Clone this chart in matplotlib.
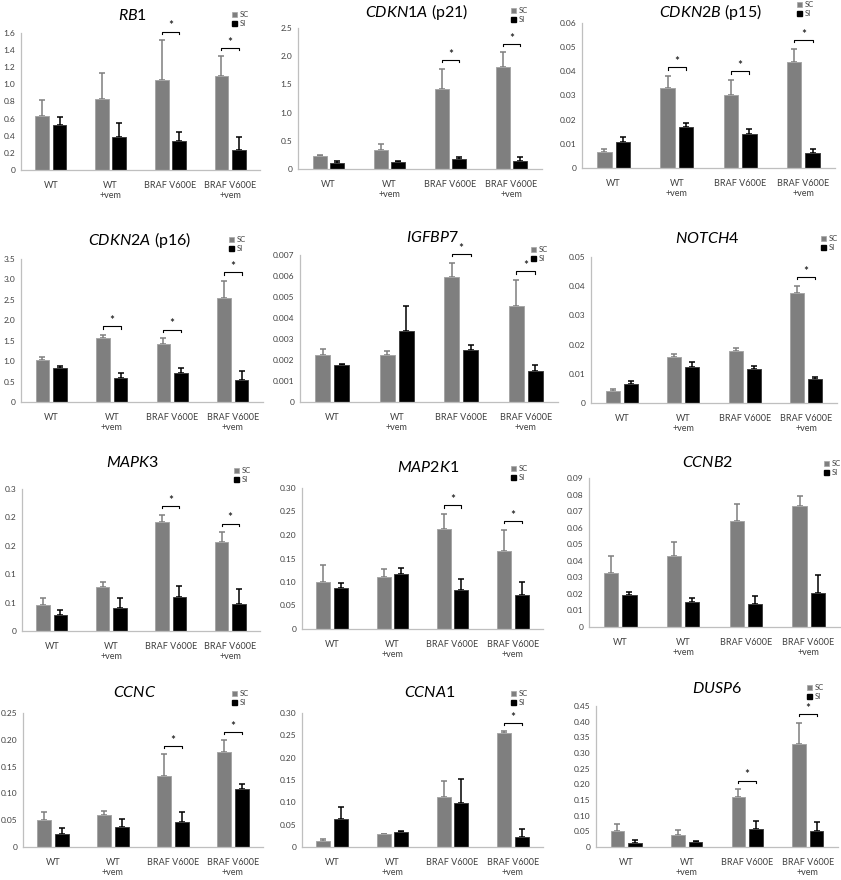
import numpy as np
import matplotlib
matplotlib.use('Agg')
import matplotlib.pyplot as plt
from matplotlib.patches import Patch

plt.rcParams['font.family'] = ['Lato', 'DejaVu Sans']
plt.rcParams['mathtext.fontset'] = 'custom'
plt.rcParams['mathtext.it'] = 'Lato:italic'
plt.rcParams['mathtext.rm'] = 'Lato'

# ---- data ----
groups = ['WT', 'WT\n+vem', 'BRAF V600E', 'BRAF V600E\n+vem']
genes = ['RB1', 'CDKN1A', 'CDKN2B', 'CDKN2A', 'IGFBP7', 'NOTCH4',
         'MAPK3', 'MAP2K1', 'CCNB2', 'CCNC', 'CCNA1', 'DUSP6']
suffix = ['', ' (p21)', ' (p15)', ' (p16)', '', '', '', '', '', '', '', '']

sc_mean = [[0.63, 0.83, 1.05, 1.10],
           [0.23, 0.33, 1.42, 1.80],
           [0.0068, 0.033, 0.030, 0.0438],
           [1.02, 1.57, 1.41, 2.54],
           [0.00223, 0.00224, 0.00593, 0.00457],
           [0.0041, 0.0157, 0.0177, 0.0378],
           [0.054, 0.092, 0.230, 0.187],
           [0.101, 0.111, 0.213, 0.166],
           [0.0325, 0.0429, 0.0639, 0.0729],
           [0.051, 0.060, 0.133, 0.177],
           [0.013, 0.028, 0.113, 0.255],
           [0.052, 0.039, 0.161, 0.330]]
sc_err = [[0.19, 0.30, 0.47, 0.23],
          [0.01, 0.12, 0.36, 0.27],
          [0.0009, 0.005, 0.0064, 0.0055],
          [0.09, 0.07, 0.15, 0.42],
          [0.00028, 0.00019, 0.0007, 0.00123],
          [0.0007, 0.0011, 0.0013, 0.0023],
          [0.015, 0.012, 0.016, 0.022],
          [0.035, 0.016, 0.032, 0.045],
          [0.0102, 0.0084, 0.0103, 0.0063],
          [0.015, 0.008, 0.040, 0.022],
          [0.004, 0.001, 0.035, 0.005],
          [0.023, 0.014, 0.024, 0.067]]
si_mean = [[0.52, 0.38, 0.34, 0.23],
           [0.10, 0.12, 0.18, 0.14],
           [0.0108, 0.0168, 0.0141, 0.0061],
           [0.82, 0.59, 0.70, 0.53],
           [0.00175, 0.00339, 0.00248, 0.00148],
           [0.0065, 0.0125, 0.0115, 0.0082],
           [0.033, 0.049, 0.071, 0.057],
           [0.087, 0.118, 0.083, 0.072],
           [0.0192, 0.015, 0.0138, 0.0208],
           [0.024, 0.037, 0.047, 0.108],
           [0.062, 0.034, 0.099, 0.022],
           [0.014, 0.015, 0.056, 0.050]]
si_err = [[0.10, 0.17, 0.10, 0.16],
          [0.04, 0.03, 0.04, 0.07],
          [0.0019, 0.002, 0.0022, 0.0017],
          [0.07, 0.11, 0.14, 0.22],
          [0.00008, 0.00119, 0.00022, 0.0003],
          [0.001, 0.0014, 0.0013, 0.0007],
          [0.011, 0.021, 0.025, 0.031],
          [0.010, 0.012, 0.023, 0.027],
          [0.0018, 0.0024, 0.0052, 0.0105],
          [0.012, 0.015, 0.018, 0.010],
          [0.028, 0.001, 0.054, 0.018],
          [0.007, 0.005, 0.026, 0.029]]
significant = [[2, 3], [2, 3], [1, 2, 3], [1, 2, 3], [2, 3], [3],
               [2, 3], [2, 3], [], [2, 3], [3], [2, 3]]

y_max = [1.6, 2.5, 0.06, 3.5, 0.007, 0.05, 0.3, 0.30, 0.09, 0.25, 0.30, 0.45]
y_step = [0.2, 0.5, 0.01, 0.5, 0.001, 0.01, 0.06, 0.05, 0.01, 0.05, 0.05, 0.05]
y_decimals = [1, 1, 2, 1, 3, 2, 1, 2, 2, 2, 2, 2]

# ---- layout (pixels) ----
W, H = 841, 880
axes_px = [(21, 260, 33, 170), (298, 542, 28, 169), (582, 835, 23, 168),
           (21, 263, 259, 402), (300, 558, 255, 402), (591, 837, 257, 403),
           (22, 260, 489, 631), (302, 543, 488, 629), (589, 840, 478, 627),
           (23, 263, 713, 847), (302, 543, 713, 847), (596, 838, 706, 847)]
title_px = [(133, 15), (417, 12), (710, 12),
            (140, 240), (432, 237), (707, 238),
            (133, 462), (428, 467), (708, 462),
            (135, 692), (430, 692), (717, 688)]
legend_px = [(232, 11), (511, 7), (797, 1),
             (229, 236), (531, 246), (821, 235),
             (234, 467), (511, 465), (824, 460),
             (232, 690), (511, 690), (807, 684)]

SC_COL = '#7f7f7f'
SC_EDGE = '#a6a6a6'
SI_COL = '#000000'
TXT = '#404040'
AX_COL = '#bfbfbf'

bw = 0.23
off = 0.145

fig = plt.figure(figsize=(W / 100, H / 100), dpi=100)

for i, gene in enumerate(genes):
    x0, x1, y0, y1 = axes_px[i]
    ax = fig.add_axes([x0 / W, 1 - y1 / H, (x1 - x0) / W, (y1 - y0) / H])
    x = np.arange(len(groups))
    sc = np.array(sc_mean[i])
    si = np.array(si_mean[i])
    sce = np.array(sc_err[i])
    sie = np.array(si_err[i])

    ax.bar(x - off, sc, width=bw, color=SC_COL, edgecolor=SC_EDGE, linewidth=0.7, zorder=2)
    ax.bar(x + off, si, width=bw, color=SI_COL, edgecolor='#404040', linewidth=0.7, zorder=2)
    ax.errorbar(x - off, sc, yerr=[np.zeros(4), sce], fmt='none', ecolor=SC_COL,
                elinewidth=1.1, capsize=2.5, capthick=1.1, zorder=1)
    ax.errorbar(x + off, si, yerr=[np.zeros(4), sie], fmt='none', ecolor=SI_COL,
                elinewidth=1.1, capsize=2.5, capthick=1.1, zorder=1)

    ym = y_max[i]
    for g in significant[i]:
        yb = sc[g] + sce[g] + 0.06 * ym
        ax.plot([g - off, g - off, g + off, g + off],
                [yb - 0.015 * ym, yb, yb, yb - 0.015 * ym],
                color='black', lw=0.8, clip_on=False, zorder=3)
        ax.text(g, yb + 0.002 * ym, '*', ha='center', va='bottom', fontsize=8.5,
                color='black', clip_on=False)

    ax.set_xlim(-0.5, 3.5)
    ax.set_ylim(0, ym)
    n = int(round(ym / y_step[i]))
    ticks = np.arange(n + 1) * y_step[i]
    d = y_decimals[i]
    ax.set_yticks(ticks)
    ax.set_yticklabels(['0' if k == 0 else f'{t:.{d}f}' for k, t in enumerate(ticks)])
    ax.set_xticks(x)
    ax.set_xticklabels(groups, linespacing=1.15)
    ax.tick_params(axis='both', length=0, colors=TXT)
    ax.tick_params(axis='y', pad=4, labelsize=6)
    ax.tick_params(axis='x', pad=8, labelsize=6.5)
    for s in ['top', 'right']:
        ax.spines[s].set_visible(False)
    for s in ['left', 'bottom']:
        ax.spines[s].set_color(AX_COL)
        ax.spines[s].set_linewidth(0.9)

    tx, ty = title_px[i]
    fig.text(tx / W, 1 - ty / H, r'$\mathit{' + gene + '}$' + suffix[i],
             ha='center', va='center', fontsize=11.5, color='black')

    lx, ly = legend_px[i]
    handles = [Patch(facecolor=SC_COL, edgecolor=SC_EDGE, linewidth=0.5),
               Patch(facecolor=SI_COL, edgecolor=SI_COL)]
    fig.legend(handles, ['SC', 'SI'], loc='upper left',
               bbox_to_anchor=(lx / W, 1 - ly / H), frameon=False, fontsize=5.5,
               handlelength=0.7, handleheight=0.7, handletextpad=0.3,
               labelspacing=0.3, borderpad=0, borderaxespad=0, labelcolor=TXT)

fig.savefig('out.png', dpi=100)
